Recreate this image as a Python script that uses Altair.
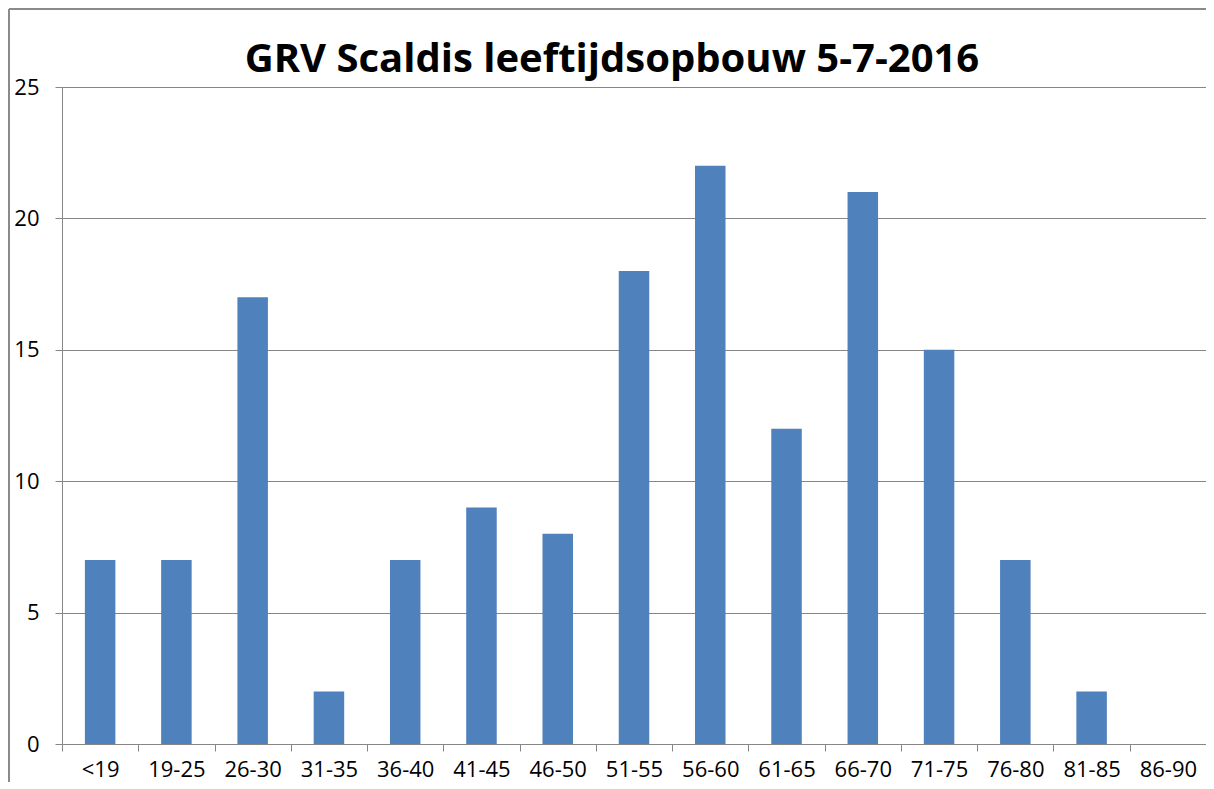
import altair as alt
import pandas as pd

categories = ["<19", "19-25", "26-30", "31-35", "36-40", "41-45", "46-50", "51-55",
              "56-60", "61-65", "66-70", "71-75", "76-80", "81-85", "86-90"]
values = [7, 7, 17, 2, 7, 9, 8, 18, 22, 12, 21, 15, 7, 2, 0]
title_text = "GRV Scaldis leeftijdsopbouw 5-7-2016"

df = pd.DataFrame({"cat": categories, "val": values})

FONT = "Open Sans"
GRID = "#868686"

x_enc = alt.X("cat:N", sort=categories, title=None,
              scale=alt.Scale(paddingInner=0, paddingOuter=0),
              axis=alt.Axis(labelAngle=0, labelFontSize=22, labelColor="#000000",
                            labelFont=FONT, labelPadding=8, tickBand="extent",
                            tickSize=7, tickColor=GRID, domainColor=GRID,
                            grid=False))
y_enc = alt.Y("val:Q", title=None,
              scale=alt.Scale(domain=[0, 25]),
              axis=alt.Axis(values=[0, 5, 10, 15, 20, 25], labelFontSize=22,
                            labelColor="#000000", labelFont=FONT, labelPadding=16,
                            tickSize=7, tickColor=GRID, domainColor=GRID,
                            gridColor=GRID, gridWidth=1))

bars = alt.Chart(df).mark_bar(color="#4F81BD", width=alt.RelativeBandSize(0.4)).encode(
    x=x_enc, y=y_enc
)

title = alt.Chart(pd.DataFrame({"t": [title_text]})).mark_text(
    font=FONT, fontSize=40, fontWeight="bold", color="#000000",
    align="center", baseline="middle", clip=False
).encode(text="t:N", x=alt.value(550), y=alt.value(-27))

frame_top = alt.Chart(df).mark_rule(color="#8a8a8a", strokeWidth=2, clip=False).encode(
    x=alt.value(-53), x2=alt.value(1144), y=alt.value(-78)
)
frame_left = alt.Chart(df).mark_rule(color="#8a8a8a", strokeWidth=2, clip=False).encode(
    x=alt.value(-53), y=alt.value(-78), y2=alt.value(720)
)

chart = alt.layer(bars, title, frame_top, frame_left).properties(
    width=1144, height=657,
    autosize=alt.AutoSizeParams(type="none"),
    padding={"left": 54, "top": 79, "right": 0, "bottom": 38},
).configure_view(stroke=None).configure(background="white")

chart.save("out.html", embed_options={"renderer": "svg", "actions": False})
